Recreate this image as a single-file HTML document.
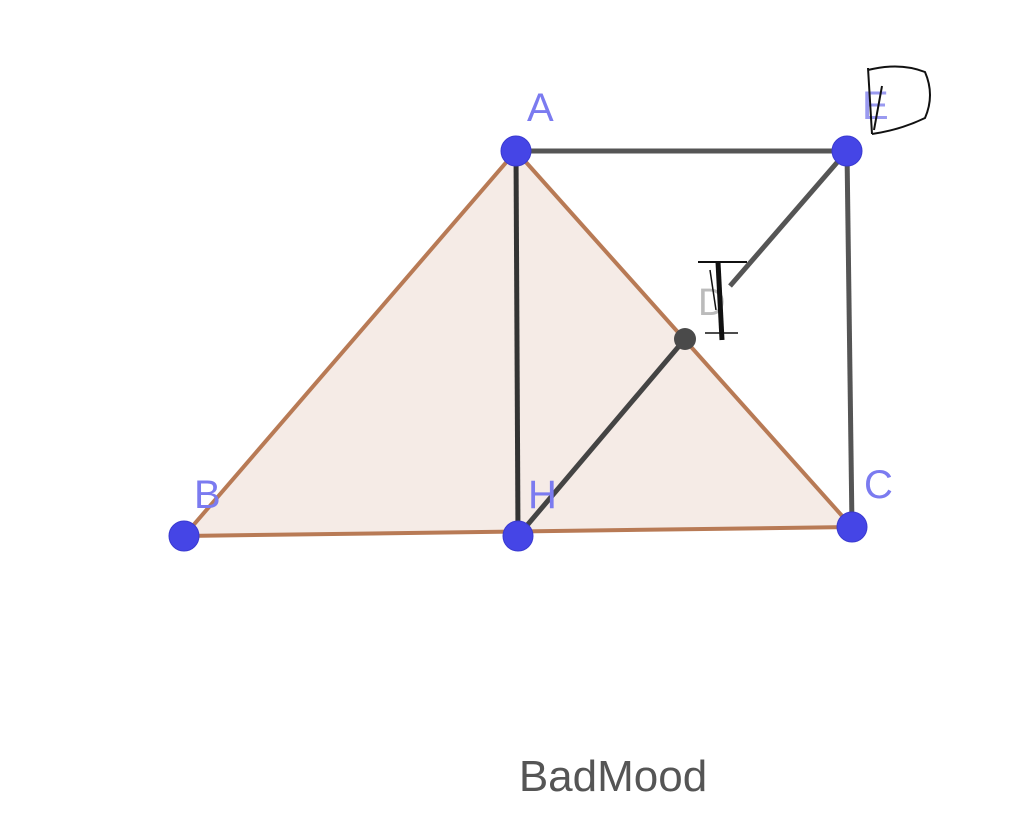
<!DOCTYPE html>
<html><head><meta charset="utf-8"><style>
html,body{margin:0;padding:0;background:#fff;}
</style></head><body>
<svg width="1024" height="829" viewBox="0 0 1024 829" xmlns="http://www.w3.org/2000/svg">
<rect width="1024" height="829" fill="#fff"/>
<polygon points="516,151 184,536 852,527" fill="#f5ebe6"/>
<line x1="516" y1="151" x2="847" y2="151" stroke="#555" stroke-width="5"/>
<line x1="847" y1="151" x2="852" y2="527" stroke="#555" stroke-width="5"/>
<line x1="847" y1="151" x2="730" y2="286" stroke="#555" stroke-width="5"/>
<line x1="685" y1="339" x2="518" y2="536" stroke="#444" stroke-width="5"/>
<line x1="516" y1="151" x2="518" y2="536" stroke="#333" stroke-width="5"/>
<line x1="516" y1="151" x2="184" y2="536" stroke="#b87a55" stroke-width="4"/>
<line x1="516" y1="151" x2="852" y2="527" stroke="#b87a55" stroke-width="4"/>
<line x1="184" y1="536" x2="852" y2="527" stroke="#b87a55" stroke-width="4"/>
<circle cx="685" cy="339" r="11" fill="#4a4a4a"/>
<g fill="#4545e6" stroke="#3a3ad0" stroke-width="1">
<circle cx="516" cy="151" r="15"/>
<circle cx="847" cy="151" r="15"/>
<circle cx="184" cy="536" r="15"/>
<circle cx="518" cy="536" r="15"/>
<circle cx="852" cy="527" r="15"/>
</g>
<g font-family="Liberation Sans, sans-serif" font-size="40" fill="#7b7bf0">
<text x="527" y="121">A</text>
<text x="194" y="508">B</text>
<text x="528" y="508">H</text>
<text x="864" y="498">C</text>
<text x="862" y="119" fill="#9a9af0">E</text>
</g>
<text x="698" y="315" font-family="Liberation Sans, sans-serif" font-size="38" fill="#bbb">D</text>
<path d="M868 68 L872 134 M868 70 Q900 62 925 72 Q935 95 925 118 Q900 130 872 134" stroke="#111" stroke-width="2" fill="none"/>
<line x1="882" y1="86" x2="874" y2="130" stroke="#111" stroke-width="2"/>
<g stroke="#111" fill="none">
<line x1="698" y1="262" x2="747" y2="262" stroke-width="2"/>
<line x1="718" y1="262" x2="722" y2="340" stroke-width="5"/>
<line x1="705" y1="333" x2="738" y2="333" stroke-width="1.5"/>
<line x1="710" y1="270" x2="716" y2="310" stroke-width="1.5"/>
</g>
<text x="613" y="791" text-anchor="middle" font-family="Liberation Sans, sans-serif" font-size="44" fill="#555">BadMood</text>
</svg>
</body></html>
